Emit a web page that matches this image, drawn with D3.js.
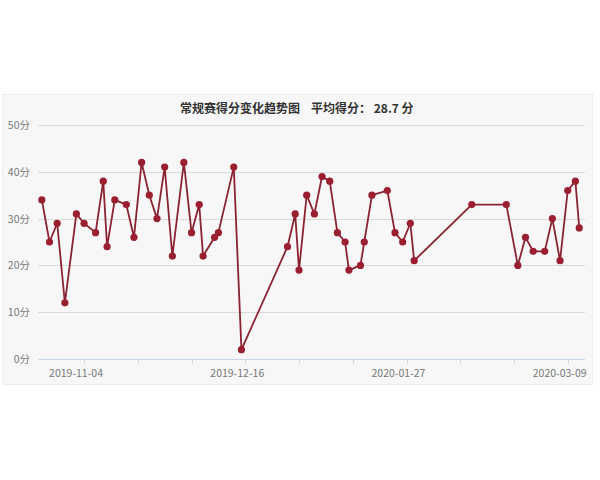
<!DOCTYPE html>
<html>
<head>
<meta charset="utf-8">
<script src="https://cdn.jsdelivr.net/npm/d3@7"></script>
<style>
  body { margin: 0; background: #fff; }
  svg { display: block; font-family: "Noto Sans CJK SC", "Noto Sans", sans-serif; }
</style>
</head>
<body>
<div id="chart"></div>
<script>
"use strict";

// Game dates and points scored
const gameDates = [
  "2019-10-24", "2019-10-26", "2019-10-28", "2019-10-30", "2019-11-02", "2019-11-04",
  "2019-11-07", "2019-11-09", "2019-11-10", "2019-11-12", "2019-11-15", "2019-11-17",
  "2019-11-19", "2019-11-21", "2019-11-23", "2019-11-25", "2019-11-27", "2019-11-30",
  "2019-12-02", "2019-12-04", "2019-12-05", "2019-12-08", "2019-12-09", "2019-12-13",
  "2019-12-15", "2019-12-27", "2019-12-29", "2019-12-30", "2020-01-01", "2020-01-03",
  "2020-01-05", "2020-01-07", "2020-01-09", "2020-01-11", "2020-01-12", "2020-01-15",
  "2020-01-16", "2020-01-18", "2020-01-22", "2020-01-24", "2020-01-26", "2020-01-28",
  "2020-01-29", "2020-02-13", "2020-02-22", "2020-02-25", "2020-02-27", "2020-02-29",
  "2020-03-03", "2020-03-05", "2020-03-07", "2020-03-09", "2020-03-11", "2020-03-12",
];
const points = [
  34, 25, 29, 12, 31, 29,
  27, 38, 24, 34, 33, 26,
  42, 35, 30, 41, 22, 42,
  27, 33, 22, 26, 27, 41,
  2, 24, 31, 19, 35, 31,
  39, 38, 27, 25, 19, 20,
  25, 35, 36, 27, 25, 29,
  21, 33, 33, 20, 26, 23,
  23, 30, 21, 36, 38, 28,
];
const yTicks = [0, 10, 20, 30, 40, 50];
const xLabelDates = ["2019-11-04", "2019-12-16", "2020-01-27", "2020-03-09"];

const parse = d3.timeParse("%Y-%m-%d");
const data = gameDates.map((d, i) => ({ date: parse(d), value: points[i] }));
const average = d3.mean(points);

const w = 600;
const h = 480;
const margin = { top: 125, bottom: 121, left: 38, right: 15 };

const svg = d3.select("#chart").append("svg").attr("width", w).attr("height", h);

// chart panel
svg.append("rect")
  .attr("x", 2.5).attr("y", 94.5)
  .attr("width", 590).attr("height", 290)
  .attr("fill", "#f7f7f7")
  .attr("stroke", "#ececec");

const x = d3.scaleTime()
  .domain([parse("2019-10-23"), d3.timeHour.offset(parse("2020-03-13"), 12)])
  .range([margin.left, w - margin.right]);

const y = d3.scaleLinear()
  .domain([0, 50])
  .range([h - margin.bottom, margin.top]);

// grid lines + y labels
const grid = svg.append("g");
grid.selectAll("line")
  .data(yTicks.filter((t) => t > 0))
  .enter()
  .append("line")
  .attr("x1", margin.left)
  .attr("x2", w - margin.right)
  .attr("y1", (d) => Math.round(y(d)) + 0.5)
  .attr("y2", (d) => Math.round(y(d)) + 0.5)
  .attr("stroke", "#d9d9d9");

grid.selectAll("text")
  .data(yTicks)
  .enter()
  .append("text")
  .attr("x", 30)
  .attr("y", (d) => y(d) + 4)
  .attr("text-anchor", "end")
  .attr("font-size", 10.5)
  .attr("fill", "#777")
  .text((d) => d + "分");

// x axis: a tick every two weeks, a label on every third one
const xTicks = d3.timeDay.range(parse("2019-11-04"), x.domain()[1], 14);

const axis = svg.append("g");
axis.append("line")
  .attr("x1", margin.left)
  .attr("x2", w - margin.right)
  .attr("y1", Math.round(y(0)) + 0.5)
  .attr("y2", Math.round(y(0)) + 0.5)
  .attr("stroke", "#ccd6eb");

axis.selectAll("line.tick")
  .data(xTicks)
  .enter()
  .append("line")
  .attr("class", "tick")
  .attr("x1", (d) => Math.round(x(d)) + 0.5)
  .attr("x2", (d) => Math.round(x(d)) + 0.5)
  .attr("y1", Math.round(y(0)))
  .attr("y2", Math.round(y(0)) + 5)
  .attr("stroke", "#ccd6eb");

axis.selectAll("text")
  .data(xLabelDates.map(parse))
  .enter()
  .append("text")
  .attr("x", (d) => x(d) - 8)
  .attr("y", y(0) + 18)
  .attr("text-anchor", "middle")
  .attr("font-size", 10.5)
  .attr("fill", "#777")
  .text(d3.timeFormat("%Y-%m-%d"));

// title
const title = svg.append("text")
  .attr("y", 113)
  .attr("font-size", 12)
  .attr("font-weight", "bold")
  .attr("fill", "#333");
title.append("tspan").attr("x", 180).text("常规赛得分变化趋势图");
title.append("tspan").attr("x", 311).text(`平均得分： ${average.toFixed(1)} 分`);

// line + markers
const line = d3.line()
  .x((d) => x(d.date))
  .y((d) => y(d.value));

svg.append("path")
  .datum(data)
  .attr("d", line)
  .attr("fill", "none")
  .attr("stroke", "#8a2332")
  .attr("stroke-width", 1.8)
  .attr("stroke-linejoin", "round");

svg.append("g")
  .selectAll("circle")
  .data(data)
  .enter()
  .append("circle")
  .attr("cx", (d) => x(d.date))
  .attr("cy", (d) => y(d.value))
  .attr("r", 3.6)
  .attr("fill", "#9a1f31");
</script>
</body>
</html>
